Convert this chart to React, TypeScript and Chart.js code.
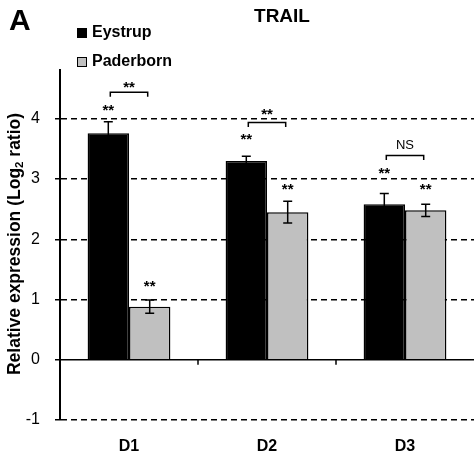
import React, { useEffect, useRef } from "react";
import { Chart, registerables } from "chart.js";

Chart.register(...registerables);

const categories = ["D1", "D2", "D3"];
const seriesNames = ["Eystrup", "Paderborn"];
const eystrup = [3.76, 3.3, 2.58];
const paderborn = [0.88, 2.45, 2.48];
const eystrupErr = [0.19, 0.08, 0.18];
const paderbornErr = [0.11, 0.18, 0.1];
// significance marks above each bar (label, y position in data units)
const eystrupSig = ["**", "**", "**"];
const eystrupSigY = [4.18, 3.7, 3.13];
const paderbornSig = ["**", "**", "**"];
const paderbornSigY = [1.26, 2.87, 2.87];
// comparison brackets between the two bars of each category
const bracketLabels = ["**", "**", "NS"];
const bracketY = [4.44, 3.94, 3.39];
const bracketLabelY = [4.57, 4.12, 3.55];
const yTicks = [-1, 0, 1, 2, 3, 4];
const title = "TRAIL";
const panelLetter = "A";

const FONT = "'Liberation Sans', Arial, Helvetica, sans-serif";

const overlay = {
  id: "overlay",
  afterDatasetsDraw(chart: any) {
    const ctx = chart.ctx;
    const x = chart.scales.x;
    const y = chart.scales.y;
    const errs = [eystrupErr, paderbornErr];
    const sigs = [eystrupSig, paderbornSig];
    const sigYs = [eystrupSigY, paderbornSigY];
    ctx.save();
    // x-axis category boundary ticks
    ctx.strokeStyle = "#000";
    ctx.lineWidth = 1.5;
    const y0 = y.getPixelForValue(0);
    for (let i = 0; i < categories.length - 1; i++) {
      const bx = (x.getPixelForValue(i) + x.getPixelForValue(i + 1)) / 2;
      ctx.beginPath();
      ctx.moveTo(bx, y0);
      ctx.lineTo(bx, y0 + 5);
      ctx.stroke();
    }
    // error bars & stars
    const centers: number[][] = [[], []];
    chart.data.datasets.forEach((ds: any, di: number) => {
      const meta = chart.getDatasetMeta(di);
      meta.data.forEach((bar: any, i: number) => {
        const v = ds.data[i];
        const e = errs[di][i];
        const cx = bar.x;
        centers[di][i] = cx;
        const top = y.getPixelForValue(v + e);
        const bot = y.getPixelForValue(v - e);
        ctx.strokeStyle = "#000";
        ctx.lineWidth = 1.5;
        ctx.beginPath();
        ctx.moveTo(cx, top);
        ctx.lineTo(cx, bot);
        ctx.moveTo(cx - 4.5, top);
        ctx.lineTo(cx + 4.5, top);
        ctx.moveTo(cx - 4.5, bot);
        ctx.lineTo(cx + 4.5, bot);
        ctx.stroke();
        ctx.fillStyle = "#000";
        ctx.font = `bold 15px ${FONT}`;
        ctx.textAlign = "center";
        ctx.textBaseline = "middle";
        ctx.fillText(sigs[di][i], cx, y.getPixelForValue(sigYs[di][i]) + 3);
      });
    });
    // brackets
    for (let i = 0; i < categories.length; i++) {
      const x1 = centers[0][i] + 2;
      const x2 = centers[1][i] - 2;
      const by = y.getPixelForValue(bracketY[i]);
      ctx.lineWidth = 1.5;
      ctx.beginPath();
      ctx.moveTo(x1, by + 4.5);
      ctx.lineTo(x1, by);
      ctx.lineTo(x2, by);
      ctx.lineTo(x2, by + 4.5);
      ctx.stroke();
      const lbl = bracketLabels[i];
      ctx.textAlign = "center";
      ctx.textBaseline = "middle";
      ctx.font = lbl === "NS" ? `13px ${FONT}` : `bold 15px ${FONT}`;
      ctx.fillText(lbl, (x1 + x2) / 2, y.getPixelForValue(bracketLabelY[i]) + (lbl === "NS" ? 0 : 3));
    }
    // legend
    chart.data.datasets.forEach((ds: any, di: number) => {
      const ly = 33 + di * 29;
      ctx.fillStyle = ds.backgroundColor;
      ctx.fillRect(77.5, ly - 4.5, 9, 9);
      ctx.strokeStyle = "#000";
      ctx.lineWidth = 1;
      ctx.strokeRect(77.5, ly - 4.5, 9, 9);
      ctx.fillStyle = "#000";
      ctx.font = `bold 16px ${FONT}`;
      ctx.textAlign = "left";
      ctx.textBaseline = "middle";
      ctx.fillText(ds.label, 92, ly);
    });
    // title & panel letter
    ctx.fillStyle = "#000";
    ctx.font = `bold 19px ${FONT}`;
    ctx.textAlign = "center";
    ctx.textBaseline = "middle";
    ctx.fillText(title, 282, 17);
    ctx.font = `bold 30px ${FONT}`;
    ctx.textAlign = "left";
    ctx.fillText(panelLetter, 9, 22);
    // y-axis title with subscript
    ctx.translate(15, 244);
    ctx.rotate(-Math.PI / 2);
    const big = `bold 17.5px ${FONT}`;
    const small = `bold 11.5px ${FONT}`;
    const p1 = "Relative expression (Log";
    const p2 = "2";
    const p3 = " ratio)";
    ctx.font = big;
    const w1 = ctx.measureText(p1).width;
    const w3 = ctx.measureText(p3).width;
    ctx.font = small;
    const w2 = ctx.measureText(p2).width;
    const total = w1 + w2 + w3;
    let sx = -total / 2;
    ctx.textAlign = "left";
    ctx.textBaseline = "middle";
    ctx.font = big;
    ctx.fillText(p1, sx, 0);
    sx += w1;
    ctx.font = small;
    ctx.fillText(p2, sx, 5);
    sx += w2;
    ctx.font = big;
    ctx.fillText(p3, sx, 0);
    ctx.restore();
  },
};

export default function App() {
  const ref = useRef<HTMLCanvasElement>(null);
  useEffect(() => {
    const chart = new Chart(ref.current!, {
      type: "bar",
      data: {
        labels: categories,
        datasets: [
          {
            label: seriesNames[0],
            data: eystrup,
            backgroundColor: "#000000",
            borderColor: "#000000",
            borderWidth: 1.5,
            categoryPercentage: 0.6,
            barPercentage: 1,
          },
          {
            label: seriesNames[1],
            data: paderborn,
            backgroundColor: "#c0c0c0",
            borderColor: "#000000",
            borderWidth: 1.5,
            categoryPercentage: 0.6,
            barPercentage: 1,
          },
        ],
      },
      options: {
        animation: false,
        responsive: false,
        devicePixelRatio: 1,
        layout: { padding: { top: 70, left: 0, right: 0, bottom: 0 } },
        plugins: {
          legend: { display: false },
          tooltip: { enabled: false },
          title: { display: false },
        },
        scales: {
          x: {
            grid: { display: false, drawTicks: false },
            border: { display: false },
            ticks: {
              color: "#000",
              padding: 17,
              font: { family: FONT, size: 16, weight: "bold" },
            },
            afterFit: (s: any) => {
              s.height = 42;
            },
          },
          y: {
            min: -1,
            max: 4.81,
            afterBuildTicks: (s: any) => {
              s.ticks = yTicks.map((v) => ({ value: v }));
            },
            ticks: {
              stepSize: 1,
              includeBounds: false,
              color: "#000",
              padding: 15,
              font: { family: FONT, size: 16 },
            },
            grid: {
              color: "#000",
              lineWidth: 1.5,
              tickLength: 5,
              drawTicks: true,
            },
            border: {
              display: true,
              color: "#000",
              width: 2,
              dash: (c: any) => (c.tick && c.tick.value === 0 ? [] : [6, 4]),
            },
            afterFit: (s: any) => {
              s.width = 60;
            },
          },
        },
      } as any,
      plugins: [overlay],
    });
    return () => chart.destroy();
  }, []);
  return (
    <div style={{ position: "fixed", left: 0, top: 0 }}>
      <canvas ref={ref} width={474} height={462} />
    </div>
  );
}
